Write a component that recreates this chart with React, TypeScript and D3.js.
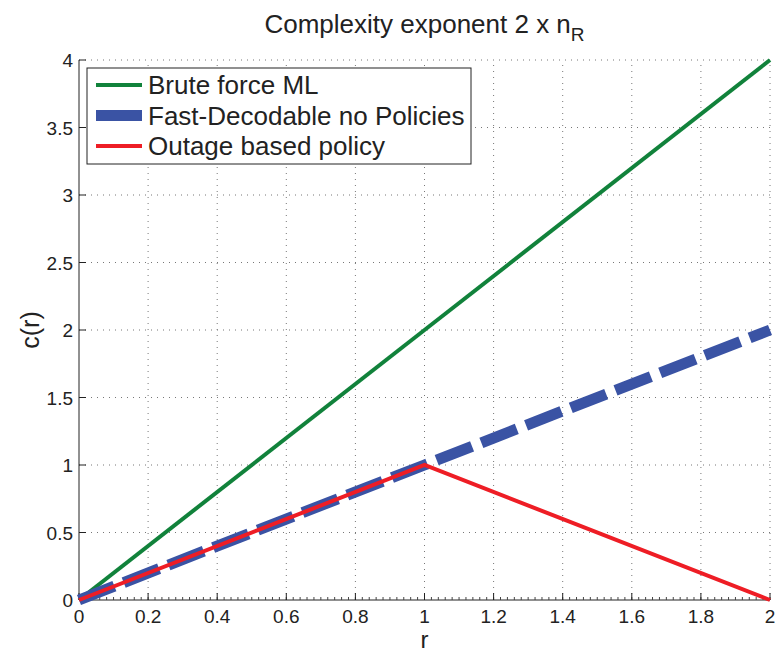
import React from 'react'
import * as d3 from 'd3'

const rValues = [0, 1, 2]
const bruteForce = [0, 2, 4]
const fastDecodable = [0, 1, 2]
const outagePolicy = [0, 1, 0]
const xTicks = [0, 0.2, 0.4, 0.6, 0.8, 1, 1.2, 1.4, 1.6, 1.8, 2]
const yTicks = [0, 0.5, 1, 1.5, 2, 2.5, 3, 3.5, 4]
const legendLabels = ['Brute force ML', 'Fast-Decodable no Policies', 'Outage based policy']

const W = 778
const H = 654
const m = { left: 79, right: 8, top: 60, bottom: 54 }

const App = () => {
  const x = d3.scaleLinear().domain([0, 2]).range([m.left, W - m.right])
  const y = d3.scaleLinear().domain([0, 4]).range([H - m.bottom, m.top])
  const line = d3.line<[number, number]>().x(d => x(d[0])).y(d => y(d[1]))
  const pts = (vals: number[]) => rValues.map((r, i) => [r, vals[i]] as [number, number])

  const series = [
    { vals: bruteForce, color: '#11823b', width: 4, dash: undefined },
    { vals: fastDecodable, color: '#3a53a4', width: 11, dash: '38 10' },
    { vals: outagePolicy, color: '#ee1d25', width: 4, dash: undefined },
  ]
  const minorTicks = d3.range(0, 2.0001, 0.02)
  const font = 'Liberation Sans, Arial, sans-serif'
  const x0 = x(0), x1 = x(2), y0 = y(0), y1 = y(4)

  return (
    <svg width={W} height={H} style={{ position: 'absolute', left: 0, top: 0 }} fontFamily={font}>
      <rect width={W} height={H} fill="#fff" />
      {/* grid */}
      {xTicks.slice(1).map(t => (
        <line key={'gx' + t} x1={x(t)} x2={x(t)} y1={y0} y2={y1} stroke="#777" strokeWidth={1} strokeDasharray="1 5" />
      ))}
      {yTicks.slice(1).map(t => (
        <line key={'gy' + t} x1={x0} x2={x1} y1={y(t)} y2={y(t)} stroke="#777" strokeWidth={1} strokeDasharray="1 5" />
      ))}
      {/* axes */}
      <line x1={x0} x2={x1} y1={y0} y2={y0} stroke="#222" strokeWidth={1} />
      <line x1={x0} x2={x0} y1={y0} y2={y1} stroke="#222" strokeWidth={1} />
      {minorTicks.map(t => (
        <line key={'mx' + t} x1={x(t)} x2={x(t)} y1={y0} y2={y0 - 3} stroke="#444" strokeWidth={1} />
      ))}
      {xTicks.map(t => (
        <g key={'tx' + t}>
          <line x1={x(t)} x2={x(t)} y1={y0} y2={y0 - 7} stroke="#222" strokeWidth={1} />
          <text x={x(t)} y={y0 + 23} fontSize={19} textAnchor="middle" fill="#222">{t}</text>
        </g>
      ))}
      {yTicks.map(t => (
        <g key={'ty' + t}>
          <line x1={x0} x2={x0 + 7} y1={y(t)} y2={y(t)} stroke="#222" strokeWidth={1} />
          <text x={x0 - 6} y={y(t) + 7} fontSize={19} textAnchor="end" fill="#222">{t}</text>
        </g>
      ))}
      {/* series */}
      {series.map((s, i) => (
        <path key={i} d={line(pts(s.vals)) || ''} fill="none" stroke={s.color} strokeWidth={s.width}
          strokeDasharray={s.dash} strokeLinejoin="miter" />
      ))}
      {/* legend */}
      <rect x={87} y={68} width={384} height={96} fill="#fff" stroke="#222" strokeWidth={1} />
      {legendLabels.map((lab, i) => {
        const ly = 85 + i * 30.5
        const s = series[i]
        return (
          <g key={lab}>
            <line x1={96} x2={142} y1={ly} y2={ly} stroke={s.color} strokeWidth={s.width} />
            <text x={148} y={ly + 9} fontSize={26} fill="#222">{lab}</text>
          </g>
        )
      })}
      {/* title and labels */}
      <text x={(x0 + x1) / 2} y={33} fontSize={26} textAnchor="middle" fill="#222">
        Complexity exponent 2 x n<tspan dy={8} fontSize={19}>R</tspan>
      </text>
      <text x={(x0 + x1) / 2} y={648} fontSize={24} textAnchor="middle" fill="#222">r</text>
      <text transform={`translate(39,${(y0 + y1) / 2}) rotate(-90)`} fontSize={25} textAnchor="middle" fill="#222">c(r)</text>
    </svg>
  )
}

export default App
